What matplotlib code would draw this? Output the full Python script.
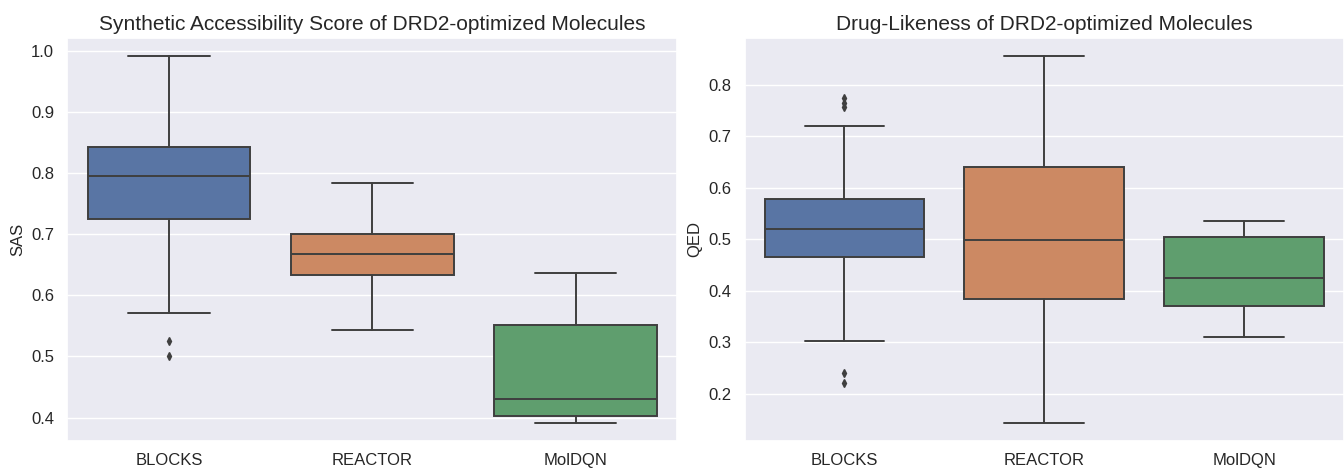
import numpy as np
import matplotlib
matplotlib.use('Agg')
import matplotlib.pyplot as plt
import seaborn as sns

methods = ['BLOCKS', 'REACTOR', 'MolDQN']

# SAS box stats: whislo, q1, med, q3, whishi
sas_whislo = [0.571, 0.543, 0.392]
sas_q1 = [0.725, 0.633, 0.403]
sas_med = [0.795, 0.667, 0.430]
sas_q3 = [0.842, 0.700, 0.551]
sas_whishi = [0.991, 0.783, 0.636]
sas_fliers = [[0.526, 0.500], [], []]

# QED box stats
qed_whislo = [0.303, 0.144, 0.310]
qed_q1 = [0.465, 0.384, 0.370]
qed_med = [0.519, 0.499, 0.425]
qed_q3 = [0.577, 0.640, 0.504]
qed_whishi = [0.719, 0.855, 0.535]
qed_fliers = [[0.774, 0.765, 0.757, 0.240, 0.220], [], []]

sns.set_theme(style='darkgrid')
plt.rcParams['font.family'] = ['Liberation Sans', 'DejaVu Sans']

colors = [sns.desaturate(c, 0.75) for c in sns.color_palette('deep')[:3]]
edge = '#3f3f3f'


def draw(ax, lo, q1, med, q3, hi, fl, title, ylabel):
    stats = []
    for i in range(len(methods)):
        stats.append(dict(whislo=lo[i], q1=q1[i], med=med[i], q3=q3[i],
                          whishi=hi[i], fliers=fl[i], label=methods[i]))
    bp = ax.bxp(stats, positions=range(len(methods)), widths=0.8,
                patch_artist=True, showfliers=True,
                boxprops=dict(edgecolor=edge, linewidth=1.4),
                medianprops=dict(color=edge, linewidth=1.4),
                whiskerprops=dict(color=edge, linewidth=1.4),
                capprops=dict(color=edge, linewidth=1.4),
                flierprops=dict(marker='d', markerfacecolor=edge,
                                markeredgecolor=edge, markersize=4))
    for patch, c in zip(bp['boxes'], colors):
        patch.set_facecolor(c)
    ax.set_xlim(-0.5, len(methods) - 0.5)
    ax.set_title(title, fontsize=15)
    ax.set_ylabel(ylabel, fontsize=12)
    ax.tick_params(axis='both', labelsize=12)
    ax.tick_params(axis='x', pad=3)
    ax.grid(axis='x', visible=False)


fig = plt.figure(figsize=(13.44, 4.68), dpi=100)
ax1 = fig.add_axes([0.050, 0.058, 0.454, 0.861])
ax2 = fig.add_axes([0.554, 0.058, 0.446, 0.861])
draw(ax1, sas_whislo, sas_q1, sas_med, sas_q3, sas_whishi, sas_fliers,
     'Synthetic Accessibility Score of DRD2-optimized Molecules', 'SAS')
draw(ax2, qed_whislo, qed_q1, qed_med, qed_q3, qed_whishi, qed_fliers,
     'Drug-Likeness of DRD2-optimized Molecules', 'QED')
ax1.set_yticks([0.4, 0.5, 0.6, 0.7, 0.8, 0.9, 1.0])
ax2.set_yticks([0.2, 0.3, 0.4, 0.5, 0.6, 0.7, 0.8])

fig.savefig('out.png', dpi=100)
